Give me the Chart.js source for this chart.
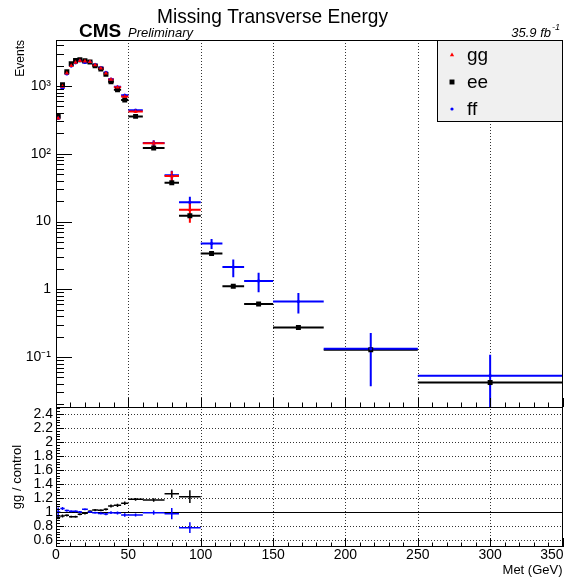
<!DOCTYPE html>
<html>
<head>
<meta charset="utf-8">
<title>Missing Transverse Energy</title>
<script src="https://cdn.jsdelivr.net/npm/chart.js@4.4.1/dist/chart.umd.min.js"></script>
<style>
  html, body { margin: 0; padding: 0; background: #fff; }
  #met-chart { display: block; }
</style>
</head>
<body>
<canvas id="met-chart" width="572" height="580"></canvas>
<script>
// Met binning (GeV)
const binEdges = [0, 3, 6, 9, 12, 15, 18, 22, 25, 29, 33, 36, 40, 45, 50, 60, 75, 85, 100, 115, 130, 150, 185, 250, 350];

// gg is only shown up to 100 GeV
const ggEvents = [335, 985, 1540, 1990, 2220, 2360, 2310, 2280, 2040, 1830, 1540, 1250, 960, 700, 420, 143, 47, 14.9];
const ggErrors = [18, 31, 39, 45, 47, 49, 48, 48, 45, 43, 39, 35, 31, 26, 20, 12, 8, 5.3];

const eeEvents = [359, 1045, 1618, 2133, 2379, 2441, 2355, 2257, 1982, 1787, 1484, 1151, 877, 623, 356, 122, 37.3, 12.2, 3.37, 1.11, 0.605, 0.273, 0.128, 0.042];
const eeErrors = [6, 10, 13, 15, 16, 16, 16, 15, 14, 13, 12, 11, 9, 8, 5, 2.5, 1.3, 0.6, 0.15, 0.06, 0.035, 0.015, 0.008, 0.004];

const ffEvents = [335, 938, 1510, 1970, 2198, 2360, 2221, 2280, 2061, 1867, 1588, 1263, 975, 731, 439, 144, 48.2, 19.2, 4.74, 2.13, 1.33, 0.66, 0.132, 0.053];
const ffErrors = [20, 35, 45, 50, 52, 54, 53, 53, 50, 48, 45, 40, 35, 30, 24, 14, 8, 4, 0.8, 0.62, 0.43, 0.22, 0.095, 0.055];

// gg / control
const ratioEE = [0.925, 0.943, 0.952, 0.933, 0.933, 0.967, 0.981, 1.01, 1.029, 1.024, 1.038, 1.086, 1.095, 1.124, 1.181, 1.171, 1.262, 1.219];
const ratioEEErrors = [0.03, 0.02, 0.015, 0.015, 0.015, 0.015, 0.015, 0.015, 0.015, 0.015, 0.017, 0.02, 0.022, 0.025, 0.02, 0.025, 0.06, 0.09];
const ratioFF = [1.0, 1.05, 1.02, 1.01, 1.01, 1.0, 1.04, 1.0, 0.99, 0.98, 0.97, 0.99, 0.985, 0.957, 0.957, 0.99, 0.976, 0.776];
const ratioFFErrors = [0.065, 0.02, 0.015, 0.015, 0.015, 0.015, 0.015, 0.015, 0.015, 0.015, 0.017, 0.02, 0.022, 0.025, 0.02, 0.03, 0.08, 0.076];

const xTickValues = [0, 50, 100, 150, 200, 250, 300, 350];
const xGridValues = [50, 100, 150, 200, 250, 300];
const logTickValues = [0.1, 1, 10, 100, 1000];
const logTickLabels = ['10\u207B\u00B9', '1', '10', '10\u00B2', '10\u00B3'];
const ratioTickValues = [0.6, 0.8, 1.0, 1.2, 1.4, 1.6, 1.8, 2.0, 2.2, 2.4];
const ratioTickLabels = ['0.6', '0.8', '1', '1.2', '1.4', '1.6', '1.8', '2', '2.2', '2.4'];

const centres = binEdges.slice(0, -1).map((lo, i) => (lo + binEdges[i + 1]) / 2);
const halfWidths = binEdges.slice(0, -1).map((lo, i) => (binEdges[i + 1] - lo) / 2);

Chart.defaults.font.family = '"Liberation Sans", Arial, sans-serif';
Chart.defaults.color = '#000';

function toPoints(values) {
  return values.map((v, i) => ({ x: centres[i], y: v }));
}

function strokeLine(ctx, x1, y1, x2, y2) {
  ctx.beginPath();
  ctx.moveTo(x1, y1);
  ctx.lineTo(x2, y2);
  ctx.stroke();
}

function drawErrorBars(chart) {
  const { ctx } = chart;
  const xs = chart.scales.x;
  const datasets = chart.data.datasets;
  // same order as chart.js draws the markers (last dataset first)
  for (let d = datasets.length - 1; d >= 0; d--) {
    const ds = datasets[d];
    const ys = chart.scales[ds.yAxisID];
    ctx.save();
    ctx.beginPath();
    ctx.rect(xs.left, ys.top, xs.right - xs.left, ys.bottom - ys.top);
    ctx.clip();
    ctx.strokeStyle = ds.borderColor;
    ctx.lineWidth = ds.errorWidth;
    ctx.beginPath();
    ds.data.forEach((p, i) => {
      const xc = xs.getPixelForValue(p.x);
      const yc = ys.getPixelForValue(p.y);
      const lo = Math.max(p.y - ds.yErr[i], ys.min / 2);
      ctx.moveTo(xs.getPixelForValue(p.x - halfWidths[i]), yc);
      ctx.lineTo(xs.getPixelForValue(p.x + halfWidths[i]), yc);
      ctx.moveTo(xc, ys.getPixelForValue(lo));
      ctx.lineTo(xc, ys.getPixelForValue(p.y + ds.yErr[i]));
    });
    ctx.stroke();
    ctx.restore();
  }
}

const rootStyle = {
  id: 'rootStyle',
  beforeDatasetsDraw(chart) {
    const { ctx, scales: { x, y, r } } = chart;
    ctx.save();
    ctx.lineWidth = 1;
    ctx.strokeStyle = '#333';
    ctx.setLineDash([1, 2]);
    xGridValues.forEach((v) => {
      const px = Math.round(x.getPixelForValue(v)) + 0.5;
      strokeLine(ctx, px, y.top, px, r.bottom);
    });
    ratioTickValues.forEach((v) => {
      if (v === 1) return;
      const py = Math.round(r.getPixelForValue(v)) + 0.5;
      strokeLine(ctx, x.left, py, x.right, py);
    });
    ctx.setLineDash([]);
    ctx.strokeStyle = '#000';
    const one = Math.round(r.getPixelForValue(1)) + 0.5;
    strokeLine(ctx, x.left, one, x.right, one);
    ctx.restore();

    drawErrorBars(chart);
  },
  afterDatasetsDraw(chart) {
    const { ctx, scales: { x, y, r } } = chart;
    ctx.save();
    ctx.strokeStyle = '#000';
    ctx.lineWidth = 1;
    ctx.beginPath();
    // x ticks point up from the bottom of both pads
    for (let v = 0; v <= 350; v += 10) {
      const px = Math.round(x.getPixelForValue(v)) + 0.5;
      const len = v % 50 === 0 ? 9 : 4.5;
      [y.bottom, r.bottom].forEach((b) => {
        ctx.moveTo(px, b);
        ctx.lineTo(px, b - len);
      });
    }
    // log ticks
    for (let d = 0.01; d < 10000; d *= 10) {
      for (let k = 1; k <= 9; k++) {
        const v = k * d;
        if (v < y.min || v > y.max) continue;
        const py = Math.round(y.getPixelForValue(v)) + 0.5;
        ctx.moveTo(x.left, py);
        ctx.lineTo(x.left + (k === 1 ? 16 : 8), py);
      }
    }
    // ratio ticks
    for (let k = -2; k <= 47; k++) {
      const v = 0.6 + k * 0.04;
      const py = Math.round(r.getPixelForValue(v)) + 0.5;
      ctx.moveTo(x.left, py);
      ctx.lineTo(x.left + (k % 5 === 0 ? 8 : 4), py);
    }
    ctx.stroke();

    // pad frames
    const left = Math.round(x.left) + 0.5;
    const right = Math.round(x.right) - 0.5;
    const top = Math.round(y.top) + 0.5;
    const mid = Math.round(y.bottom) + 0.5;
    const bottom = Math.round(r.bottom) - 0.5;
    ctx.strokeRect(left, top, right - left, mid - top);
    ctx.strokeRect(left, mid, right - left, bottom - mid);
    ctx.restore();
  },
  afterDraw(chart) {
    const { ctx, scales: { x } } = chart;
    ctx.save();
    ctx.fillStyle = '#000';
    ctx.textBaseline = 'alphabetic';

    // title, squeezed to the width of the ROOT font
    const title = 'Missing Transverse Energy';
    ctx.font = '21px "Liberation Sans", Arial, sans-serif';
    const tw = ctx.measureText(title).width;
    ctx.save();
    ctx.translate(272.5, 23);
    ctx.scale(231 / tw, 1);
    ctx.textAlign = 'center';
    ctx.fillText(title, 0, 0);
    ctx.restore();

    ctx.textAlign = 'left';
    ctx.font = 'bold 19px "Liberation Sans", Arial, sans-serif';
    ctx.fillText('CMS', 79, 37);
    ctx.font = 'italic 13px "Liberation Sans", Arial, sans-serif';
    ctx.fillText('Preliminary', 128, 37);

    ctx.textAlign = 'right';
    ctx.fillText('35.9 fb', 551, 37);
    ctx.font = 'italic 9px "Liberation Sans", Arial, sans-serif';
    ctx.textAlign = 'left';
    ctx.fillText('-1', 552, 30);

    // last x label is pulled inside the pad like ROOT does
    ctx.font = '14px "Liberation Sans", Arial, sans-serif';
    ctx.textAlign = 'right';
    ctx.textBaseline = 'middle';
    ctx.fillText('350', x.right + 1, x.top + 8.4);

    // legend
    ctx.fillStyle = '#f0f0f0';
    ctx.fillRect(437, 40, 126, 82);
    ctx.strokeStyle = '#000';
    ctx.lineWidth = 1;
    ctx.strokeRect(437.5, 40.5, 125, 81);
    const entries = chart.data.datasets.filter((ds) => ds.inLegend);
    const order = ['gg', 'ee', 'ff'];
    order.forEach((name, i) => {
      const ds = entries.find((e) => e.label === name);
      const cy = 55 + i * 27;
      ctx.fillStyle = ds.backgroundColor;
      ctx.strokeStyle = ds.borderColor;
      Chart.helpers.drawPoint(ctx, { pointStyle: ds.pointStyle, radius: ds.pointRadius, borderWidth: 0, rotation: 0 }, 452, cy);
      ctx.fillStyle = '#000';
      ctx.font = '19px "Liberation Sans", Arial, sans-serif';
      ctx.textAlign = 'left';
      ctx.textBaseline = 'alphabetic';
      ctx.fillText(name, 467, cy + 6);
    });
    ctx.restore();
  },
};

new Chart(document.getElementById('met-chart'), {
  type: 'scatter',
  data: {
    datasets: [
      {
        label: 'gg', inLegend: true, yAxisID: 'y', data: toPoints(ggEvents), yErr: ggErrors,
        pointStyle: 'triangle', pointRadius: 2.5, borderWidth: 0, errorWidth: 2,
        backgroundColor: '#ff0000', borderColor: '#ff0000',
      },
      {
        label: 'ff', inLegend: true, yAxisID: 'y', data: toPoints(ffEvents), yErr: ffErrors,
        pointStyle: 'circle', pointRadius: 1.6, borderWidth: 0, errorWidth: 2,
        backgroundColor: '#0000ff', borderColor: '#0000ff',
      },
      {
        label: 'ee', inLegend: true, yAxisID: 'y', data: toPoints(eeEvents), yErr: eeErrors,
        pointStyle: 'rect', pointRadius: 3.5, borderWidth: 0, errorWidth: 2,
        backgroundColor: '#000000', borderColor: '#000000',
      },
      {
        label: 'gg / ff', yAxisID: 'r', data: toPoints(ratioFF), yErr: ratioFFErrors,
        pointStyle: 'circle', pointRadius: 1.2, borderWidth: 0, errorWidth: 1.5,
        backgroundColor: '#0000ff', borderColor: '#0000ff',
      },
      {
        label: 'gg / ee', yAxisID: 'r', data: toPoints(ratioEE), yErr: ratioEEErrors,
        pointStyle: 'rect', pointRadius: 2.2, borderWidth: 0, errorWidth: 1.5,
        backgroundColor: '#000000', borderColor: '#000000',
      },
    ],
  },
  options: {
    responsive: false,
    animation: false,
    devicePixelRatio: 1,
    events: [],
    layout: { padding: { top: 40, right: 9.5, left: 0, bottom: 0 } },
    plugins: { legend: { display: false }, tooltip: { enabled: false } },
    scales: {
      x: {
        type: 'linear',
        min: 0,
        max: 350,
        afterBuildTicks: (s) => { s.ticks = xTickValues.map((v) => ({ value: v })); },
        afterFit: (s) => { s.height = 33; },
        grid: { display: false, drawTicks: false },
        border: { display: false },
        ticks: {
          padding: 0, maxRotation: 0, autoSkip: false, font: { size: 14 },
          callback: (v) => (v === 350 ? '' : String(v)),
        },
        title: { display: true, text: 'Met (GeV)', align: 'end', font: { size: 13 }, padding: { top: 0, bottom: 2 } },
      },
      y: {
        type: 'logarithmic',
        position: 'left',
        stack: 'pads',
        stackWeight: 367,
        weight: 2,
        min: 0.0183,
        max: 4775,
        afterBuildTicks: (s) => { s.ticks = logTickValues.map((v) => ({ value: v })); },
        afterFit: (s) => { s.width = 56; },
        grid: { display: false, drawTicks: false },
        border: { display: false },
        ticks: { padding: 5, autoSkip: false, font: { size: 14 }, callback: (v, i) => logTickLabels[i] },
        title: { display: true, text: 'Events', align: 'end', font: { size: 12 }, padding: { top: 13 } },
      },
      r: {
        type: 'linear',
        position: 'left',
        stack: 'pads',
        stackWeight: 140,
        weight: 1,
        min: 0.5,
        max: 2.5,
        afterBuildTicks: (s) => { s.ticks = ratioTickValues.map((v) => ({ value: v })); },
        afterFit: (s) => { s.width = 56; },
        grid: { display: false, drawTicks: false },
        border: { display: false },
        ticks: { padding: 3, autoSkip: false, font: { size: 14 }, callback: (v, i) => ratioTickLabels[i] },
        title: { display: true, text: 'gg / control', font: { size: 13 }, padding: { top: 10 } },
      },
    },
  },
  plugins: [rootStyle],
});
</script>
</body>
</html>
